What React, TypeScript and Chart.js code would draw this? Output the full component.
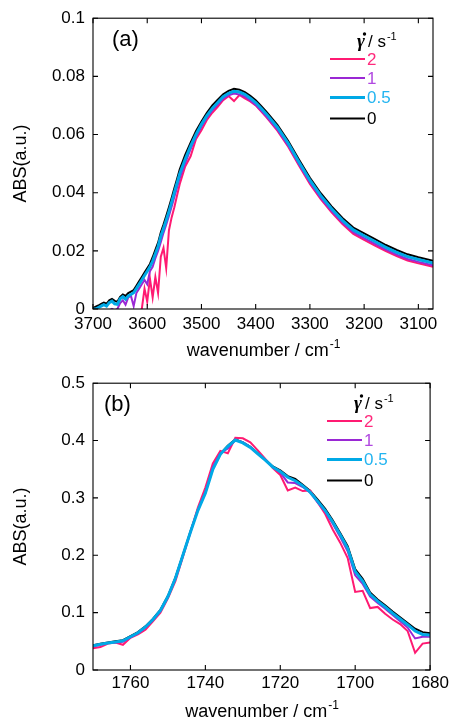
import React, { useEffect, useRef } from "react";
import { Chart, registerables } from "chart.js";
Chart.register(...registerables);

const FONT = "'Liberation Sans', Arial, sans-serif";

// ---------- Panel (a): OH stretching band ----------
const WN_A = [3700,3695,3690,3685,3680,3675,3670,3665,3660,3655,3650,3645,3640,3635,3630,3625,3620,3615,3610,3605,3600,3595,3590,3585,3580,3575,3570,3565,3560,3555,3550,3545,3540,3530,3520,3510,3500,3490,3480,3470,3460,3450,3440,3430,3420,3410,3400,3390,3380,3360,3340,3320,3300,3280,3260,3240,3220,3200,3180,3160,3140,3120,3100,3073];
const A_RATE_2 = [-0.003,-0.003,-0.003,-0.003,-0.003,-0.003,-0.003,-0.003,-0.003,-0.003,-0.003,-0.002,-0.002,-0.002,-0.002,-0.002,-0.002,-0.001,0.0,0.007,0.0025,0.0105,0.004,0.011,0.0055,0.018,0.021,0.014,0.027,0.0315,0.035,0.039,0.043,0.049,0.0525,0.0585,0.0615,0.065,0.0675,0.0695,0.0718,0.0732,0.0715,0.0736,0.0724,0.0714,0.07,0.068,0.0659,0.0613,0.0558,0.0493,0.043,0.0378,0.0332,0.0292,0.0258,0.0238,0.0218,0.0199,0.0182,0.0167,0.0157,0.0145];
const A_RATE_1 = [-0.002,-0.002,-0.002,-0.0015,-0.001,-0.001,-0.0005,0.0,-0.0005,0.0,0.002,0.003,0.0015,0.004,0.0045,0.001,0.0055,0.007,0.0085,0.01,0.0085,0.013,0.0145,0.0175,0.02,0.023,0.0262,0.029,0.032,0.0352,0.0385,0.0418,0.045,0.0502,0.055,0.0592,0.0627,0.0658,0.0683,0.0703,0.0723,0.0735,0.0741,0.0738,0.073,0.0717,0.0702,0.0682,0.0662,0.0617,0.0562,0.0497,0.0435,0.0382,0.0337,0.0297,0.0264,0.0244,0.0224,0.0204,0.0187,0.0172,0.0162,0.015];
const A_RATE_05 = [0,0,0.0005,0.001,0.0015,0.001,0.0022,0.0027,0.0018,0.0016,0.0035,0.0042,0.0034,0.0045,0.005,0.0056,0.007,0.0085,0.01,0.0115,0.013,0.0145,0.0165,0.019,0.0215,0.025,0.0277,0.0305,0.0335,0.0367,0.04,0.0433,0.0465,0.0515,0.056,0.06,0.0635,0.0665,0.069,0.071,0.073,0.0742,0.0749,0.0746,0.0738,0.0725,0.071,0.069,0.067,0.0625,0.057,0.0505,0.0443,0.039,0.0345,0.0305,0.0272,0.0252,0.0232,0.0212,0.0195,0.018,0.017,0.0158];
const A_RATE_0 = [0.0003,0.0008,0.0012,0.0018,0.0022,0.0018,0.003,0.0035,0.0028,0.0025,0.0042,0.005,0.0045,0.0055,0.006,0.0065,0.008,0.0095,0.011,0.0125,0.014,0.0155,0.0178,0.0203,0.0228,0.0263,0.029,0.032,0.035,0.0382,0.0415,0.0447,0.048,0.053,0.0572,0.0612,0.0645,0.0675,0.07,0.072,0.0738,0.075,0.0757,0.0754,0.0746,0.0733,0.0718,0.0698,0.0678,0.0633,0.0578,0.0513,0.0451,0.0398,0.0353,0.0313,0.028,0.026,0.024,0.022,0.0203,0.0188,0.0178,0.0166];

// ---------- Panel (b): C=O stretching band ----------
const WN_B = [1770,1768,1766,1764,1762,1760,1758,1756,1754,1752,1750,1748,1746,1744,1742,1740,1738,1736,1734,1732,1730,1728,1726,1724,1722,1720,1718,1716,1714,1712,1710,1708,1706,1704,1702,1700,1698,1696,1694,1692,1690,1688,1686,1684,1682,1680];
const B_RATE_2 = [0.038,0.04,0.046,0.048,0.044,0.056,0.062,0.07,0.085,0.1,0.125,0.155,0.197,0.24,0.283,0.318,0.36,0.382,0.378,0.405,0.404,0.397,0.383,0.368,0.352,0.34,0.313,0.318,0.312,0.313,0.292,0.272,0.245,0.222,0.195,0.136,0.138,0.108,0.11,0.098,0.088,0.08,0.068,0.03,0.046,0.048];
const B_RATE_1 = [0.041,0.044,0.047,0.048,0.049,0.057,0.064,0.074,0.087,0.103,0.127,0.159,0.199,0.24,0.279,0.31,0.354,0.378,0.386,0.401,0.397,0.389,0.377,0.366,0.354,0.344,0.327,0.326,0.319,0.309,0.292,0.276,0.255,0.232,0.207,0.165,0.15,0.128,0.117,0.107,0.096,0.085,0.074,0.055,0.058,0.058];
const B_RATE_05 = [0.042,0.045,0.047,0.049,0.051,0.058,0.065,0.075,0.088,0.104,0.128,0.16,0.2,0.24,0.278,0.308,0.35,0.376,0.39,0.401,0.396,0.388,0.377,0.366,0.354,0.346,0.336,0.33,0.321,0.31,0.294,0.278,0.258,0.236,0.212,0.172,0.155,0.132,0.12,0.11,0.099,0.089,0.079,0.068,0.062,0.061];
const B_RATE_0 = [0.043,0.046,0.048,0.05,0.052,0.059,0.066,0.076,0.089,0.105,0.129,0.161,0.201,0.241,0.279,0.309,0.351,0.377,0.391,0.402,0.397,0.389,0.378,0.367,0.355,0.348,0.338,0.333,0.323,0.312,0.297,0.281,0.261,0.239,0.216,0.176,0.159,0.135,0.123,0.113,0.102,0.092,0.082,0.072,0.066,0.064];

// ---------- labels & ticks ----------
const RATE_LABELS = ["2", "1", "0.5", "0"];
const X_TICKS_A = [3700, 3600, 3500, 3400, 3300, 3200, 3100];
const Y_TICKS_A = [0, 0.02, 0.04, 0.06, 0.08, 0.1];
const X_TICKS_B = [1760, 1740, 1720, 1700, 1680];
const Y_TICKS_B = [0, 0.1, 0.2, 0.3, 0.4, 0.5];

const LINE_COLORS = ["#ff1a72", "#9a28d4", "#00a9e6", "#000000"];
const TEXT_COLORS = ["#ff2a7c", "#b048e0", "#22b4f0", "#000000"];
const LINE_WIDTHS = [2, 2, 3, 2];

type PanelSpec = {
  tag: string;
  tagX: number;
  wn: number[];
  series: number[][]; // legend order: 2, 1, 0.5, 0
  xMin: number;
  xMax: number;
  yMax: number;
  xTicks: number[];
  yTicks: number[];
  height: number;
  xAxisH: number;
  xPad: number;
  legendX: number;
  legendY: number;
};

const PANELS: PanelSpec[] = [
  { tag: "(a)", tagX: 112, wn: WN_A, series: [A_RATE_2, A_RATE_1, A_RATE_05, A_RATE_0], xMin: 3073, xMax: 3700, yMax: 0.1, xTicks: X_TICKS_A, yTicks: Y_TICKS_A, height: 365, xAxisH: 56, xPad: 5, legendX: 330, legendY: 59 },
  { tag: "(b)", tagX: 104, wn: WN_B, series: [B_RATE_2, B_RATE_1, B_RATE_05, B_RATE_0], xMin: 1680, xMax: 1770, yMax: 0.5, xTicks: X_TICKS_B, yTicks: Y_TICKS_B, height: 354, xAxisH: 49, xPad: 3, legendX: 327, legendY: 56 },
];

function makeChart(canvas: HTMLCanvasElement, p: PanelSpec) {
  // draw order: blue on top, then purple, pink, black at the bottom
  const drawOrder = [2, 1, 0, 3];
  const datasets = drawOrder.map((i) => ({
    label: RATE_LABELS[i],
    data: p.wn.map((x, k) => ({ x, y: p.series[i][k] })),
    borderColor: LINE_COLORS[i],
    backgroundColor: LINE_COLORS[i],
    borderWidth: LINE_WIDTHS[i],
    pointRadius: 0,
    tension: 0,
    fill: false,
  }));

  const framePlugin = {
    id: "frame",
    afterDatasetsDraw(chart: any) {
      const { ctx, chartArea: a, scales } = chart;
      ctx.save();
      ctx.strokeStyle = "#000";
      ctx.lineWidth = 1.1;
      ctx.strokeRect(a.left, a.top, a.right - a.left, a.bottom - a.top);
      const L = 5;
      ctx.beginPath();
      scales.x.ticks.forEach((t: any) => {
        const x = scales.x.getPixelForValue(t.value);
        ctx.moveTo(x, a.bottom); ctx.lineTo(x, a.bottom - L);
        ctx.moveTo(x, a.top); ctx.lineTo(x, a.top + L);
      });
      scales.y.ticks.forEach((t: any) => {
        const y = scales.y.getPixelForValue(t.value);
        ctx.moveTo(a.left, y); ctx.lineTo(a.left + L, y);
        ctx.moveTo(a.right, y); ctx.lineTo(a.right - L, y);
      });
      ctx.stroke();
      ctx.restore();
    },
  };

  const annotPlugin = {
    id: "annot",
    afterDraw(chart: any) {
      const { ctx, chartArea: a } = chart;
      ctx.save();
      ctx.fillStyle = "#000";
      // panel tag
      ctx.font = `22px ${FONT}`;
      ctx.textAlign = "left";
      ctx.textBaseline = "alphabetic";
      ctx.fillText(p.tag, p.tagX, a.top + 28);

      // x title with superscript
      const main = "wavenumber / cm";
      const sup = "-1";
      ctx.font = `18px ${FONT}`;
      const wMain = ctx.measureText(main).width;
      ctx.font = `12px ${FONT}`;
      const wSup = ctx.measureText(sup).width;
      const cx = (a.left + a.right) / 2;
      const x0 = cx - (wMain + wSup) / 2;
      const by = a.bottom + 47;
      ctx.font = `18px ${FONT}`;
      ctx.fillText(main, x0, by);
      ctx.font = `12px ${FONT}`;
      ctx.fillText(sup, x0 + wMain + 1, by - 8);

      // y title
      ctx.save();
      ctx.translate(21, (a.top + a.bottom) / 2);
      ctx.rotate(-Math.PI / 2);
      ctx.font = `18px ${FONT}`;
      ctx.textAlign = "center";
      ctx.textBaseline = "middle";
      ctx.fillText("ABS(a.u.)", 0, 0);
      ctx.restore();

      // legend
      const lx = p.legendX;
      const ly = p.legendY;
      const hy = ly - 12;
      const gx = lx + 27;
      ctx.textAlign = "left";
      ctx.textBaseline = "alphabetic";
      ctx.font = `italic bold 19px 'Liberation Serif', serif`;
      ctx.fillText("\u03b3", gx, hy);
      ctx.beginPath();
      ctx.arc(gx + 7.5, hy - 13, 1.7, 0, Math.PI * 2);
      ctx.fill();
      ctx.font = `17px ${FONT}`;
      ctx.fillText("/ s", gx + 11, hy);
      const ws = ctx.measureText("/ s").width;
      ctx.font = `11px ${FONT}`;
      ctx.fillText("-1", gx + 11 + ws + 1, hy - 7);

      const offs = [0, 19, 38.5, 59.5];
      RATE_LABELS.forEach((lab, i) => {
        const y = ly + offs[i];
        ctx.strokeStyle = LINE_COLORS[i];
        ctx.lineWidth = LINE_WIDTHS[i];
        ctx.beginPath();
        ctx.moveTo(lx, y);
        ctx.lineTo(lx + 35, y);
        ctx.stroke();
        ctx.fillStyle = TEXT_COLORS[i];
        ctx.font = `17px ${FONT}`;
        ctx.textBaseline = "middle";
        ctx.fillText(lab, lx + 37, y + 1);
      });
      ctx.restore();
    },
  };

  return new Chart(canvas, {
    type: "line",
    data: { datasets },
    options: {
      responsive: false,
      maintainAspectRatio: false,
      animation: false,
      devicePixelRatio: 1,
      layout: { padding: { top: 18, right: 19, left: 0, bottom: 0 } },
      plugins: { legend: { display: false }, tooltip: { enabled: false } },
      scales: {
        x: {
          type: "linear",
          reverse: true,
          min: p.xMin,
          max: p.xMax,
          grid: { display: false, drawTicks: false },
          border: { display: false },
          afterBuildTicks: (s: any) => { s.ticks = p.xTicks.map((v) => ({ value: v })); },
          afterFit: (s: any) => { s.height = p.xAxisH; },
          ticks: {
            autoSkip: false,
            maxRotation: 0,
            padding: p.xPad,
            color: "#000",
            font: { family: FONT, size: 17 },
            callback: (v: any) => String(v),
          },
        },
        y: {
          type: "linear",
          min: 0,
          max: p.yMax,
          grid: { display: false, drawTicks: false },
          border: { display: false },
          afterBuildTicks: (s: any) => { s.ticks = p.yTicks.map((v) => ({ value: v })); },
          afterFit: (s: any) => { s.width = 93; },
          ticks: {
            padding: 8,
            color: "#000",
            font: { family: FONT, size: 17 },
            callback: (v: any) => String(v),
          },
        },
      },
    },
    plugins: [framePlugin, annotPlugin],
  } as any);
}

function PanelChart({ p, top }: { p: PanelSpec; top: number }) {
  const ref = useRef<HTMLCanvasElement | null>(null);
  useEffect(() => {
    if (!ref.current) return;
    const c = makeChart(ref.current, p);
    return () => c.destroy();
  }, [p]);
  return (
    <canvas
      ref={ref}
      width={452}
      height={p.height}
      style={{ position: "absolute", left: 0, top, width: 452, height: p.height, display: "block" }}
    />
  );
}

export default function App() {
  return (
    <div style={{ position: "absolute", left: 0, top: 0, width: 452, height: 719, background: "#fff", overflow: "hidden" }}>
      <PanelChart p={PANELS[0]} top={0} />
      <PanelChart p={PANELS[1]} top={365} />
    </div>
  );
}
